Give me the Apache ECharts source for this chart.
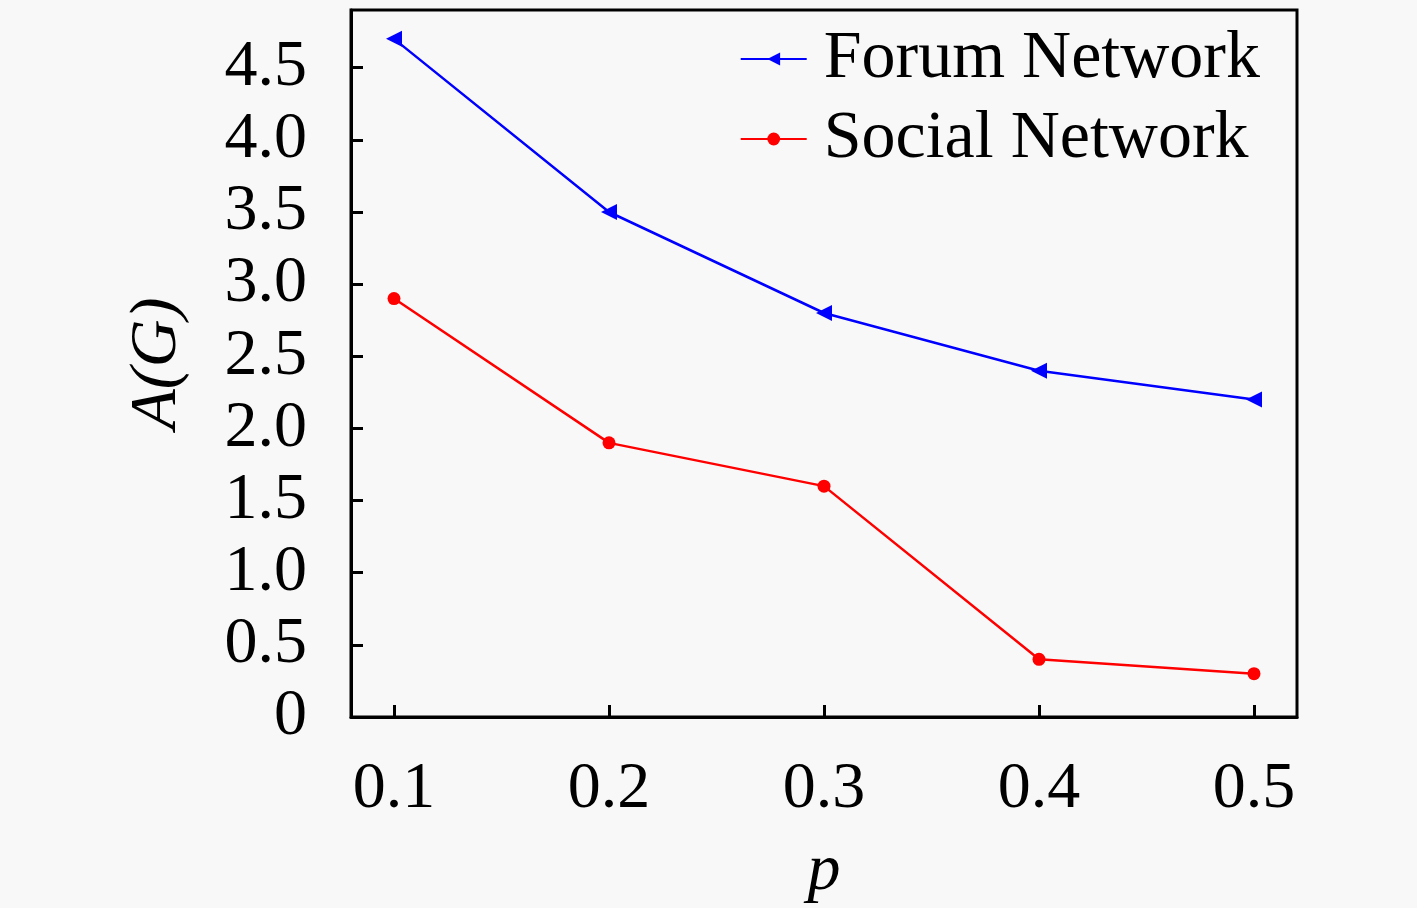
<!DOCTYPE html>
<html>
<head>
<meta charset="utf-8">
<script src="https://cdn.jsdelivr.net/npm/echarts@6/dist/echarts.min.js"></script>
<style>
  html, body { margin: 0; padding: 0; background: #f8f8f8; }
  #chart { width: 1417px; height: 908px; }
</style>
</head>
<body>
<div id="chart"></div>
<script>
var pValues = [0.1, 0.2, 0.3, 0.4, 0.5];
var forumNetwork = [4.7, 3.5, 2.8, 2.4, 2.2];
var socialNetwork = [2.9, 1.9, 1.6, 0.4, 0.3];
var yTicks = [0, 0.5, 1.0, 1.5, 2.0, 2.5, 3.0, 3.5, 4.0, 4.5];

var chart = echarts.init(document.getElementById('chart'));
var font = '"Liberation Serif", "DejaVu Serif", serif';

function pairs(xs, ys) {
  return xs.map(function (x, i) { return [x, ys[i]]; });
}

var option = {
  backgroundColor: '#f8f8f8',
  animation: false,
  grid: {
    left: 351,
    right: 120,
    top: 10,
    bottom: 191,
    outerBoundsMode: 'none',
    containLabel: false,
    show: true,
    borderColor: '#000',
    borderWidth: 3,
    backgroundColor: 'transparent'
  },
  legend: {
    orient: 'vertical',
    right: 152,
    top: 20,
    itemWidth: 66,
    itemHeight: 16,
    itemGap: 12,
    textStyle: { fontFamily: font, fontSize: 68, color: '#000', padding: [0, 0, 0, 12] },
    data: ['Forum Network', 'Social Network']
  },
  xAxis: {
    type: 'value',
    min: 0.08,
    max: 0.52,
    name: 'p',
    nameLocation: 'middle',
    nameGap: 122,
    nameTextStyle: { fontFamily: font, fontStyle: 'italic', fontSize: 66, color: '#000' },
    splitLine: { show: false },
    axisLine: { show: true, onZero: false, lineStyle: { color: '#000', width: 3 } },
    axisTick: { show: true, inside: true, length: 12, lineStyle: { width: 3, color: '#000' }, customValues: pValues },
    axisLabel: {
      customValues: pValues,
      margin: 40,
      fontFamily: font, fontSize: 66, color: '#000',
      formatter: function (v) { return v.toFixed(1); }
    }
  },
  yAxis: {
    type: 'value',
    min: 0,
    max: 4.9,
    name: 'A(G)',
    nameLocation: 'middle',
    nameGap: 160,
    nameRotate: 90,
    nameTextStyle: { fontFamily: font, fontStyle: 'italic', fontSize: 66, color: '#000' },
    splitLine: { show: false },
    axisLine: { show: true, lineStyle: { color: '#000', width: 3 } },
    axisTick: { show: true, inside: true, length: 12, lineStyle: { width: 3, color: '#000' }, customValues: yTicks },
    axisLabel: {
      customValues: yTicks,
      margin: 44,
      fontFamily: font, fontSize: 66, color: '#000',
      formatter: function (v) { return v === 0 ? '0' : v.toFixed(1); }
    }
  },
  series: [{
    name: 'Forum Network',
    type: 'line',
    data: pairs(pValues, forumNetwork),
    symbol: 'triangle',
    symbolRotate: 90,
    symbolSize: 16,
    itemStyle: { color: '#0000ff' },
    lineStyle: { color: '#0000ff', width: 2.5 }
  }, {
    name: 'Social Network',
    type: 'line',
    data: pairs(pValues, socialNetwork),
    symbol: 'circle',
    symbolSize: 13,
    itemStyle: { color: '#ff0000' },
    lineStyle: { color: '#ff0000', width: 2.5 }
  }]
};

chart.setOption(option);
</script>
</body>
</html>
